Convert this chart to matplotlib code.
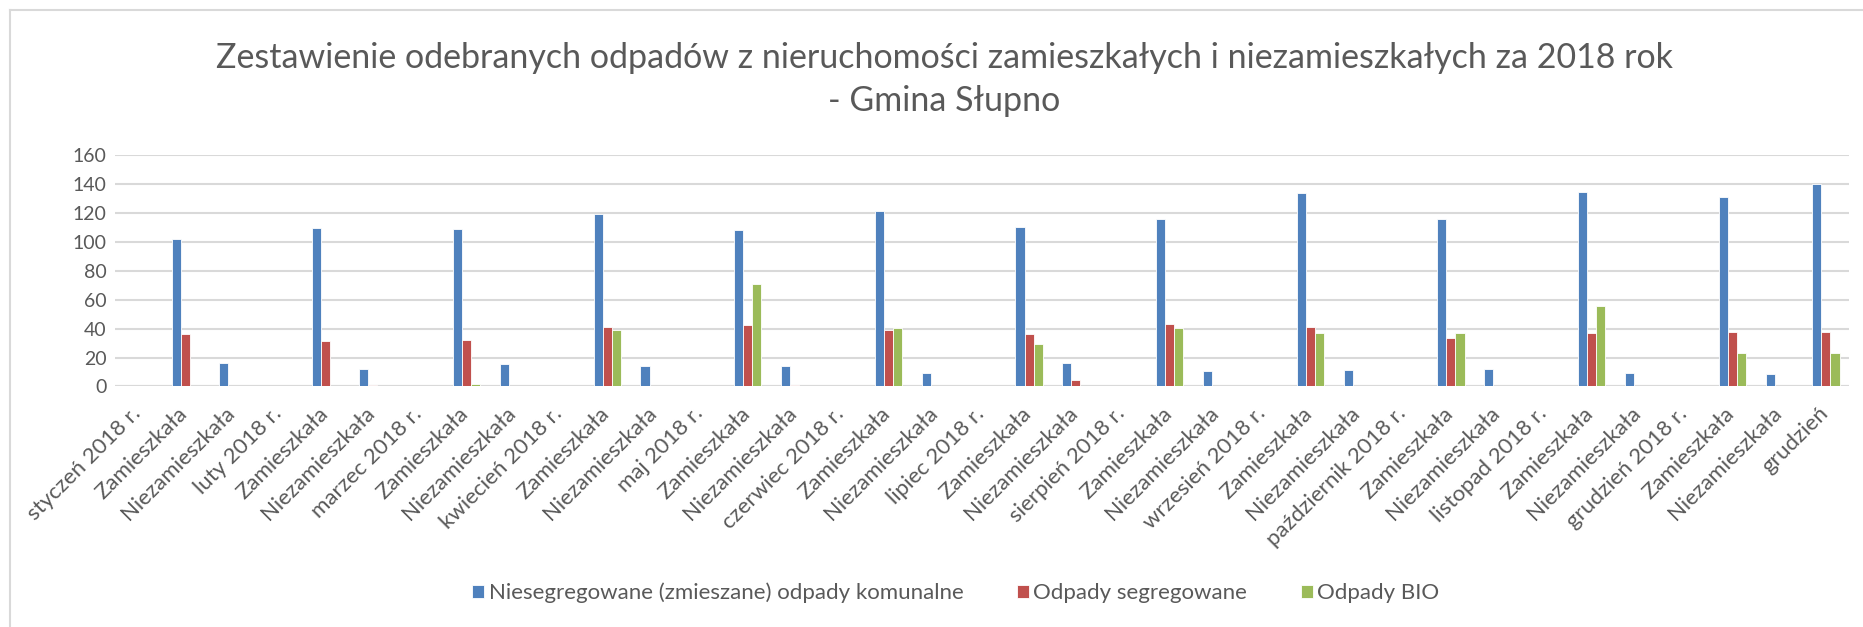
import matplotlib
matplotlib.use("Agg")
import matplotlib.pyplot as plt
import matplotlib.transforms as mtransforms
import numpy as np
from matplotlib.lines import Line2D

plt.rcParams['font.family'] = ['Lato', 'DejaVu Sans']

months = ["styczeń", "luty", "marzec", "kwiecień", "maj", "czerwiec",
          "lipiec", "sierpień", "wrzesień", "październik", "listopad", "grudzień"]

categories = []
for m in months:
    categories += [m + " 2018 r.", "Zamieszkała", "Niezamieszkała"]
categories.append("grudzień")

# values per month: (Zamieszkała, Niezamieszkała); month header rows are empty
mixed_zam = [102, 109.2, 108.8, 118.9, 107.9, 121.6, 110.4, 116.1, 133.6, 115.7, 134.5, 130.8]
mixed_nzam = [16.1, 12.2, 15.6, 14.2, 14.2, 9.6, 16.1, 10.8, 11.5, 11.9, 9.4, 8.7]
segr_zam = [36.0, 31.2, 32.1, 40.8, 42.5, 39.0, 36.0, 43.4, 41.1, 33.7, 37.2, 37.4]
segr_nzam = [0.4, 0.9, 0.4, 0.3, 0.9, 0.3, 4.4, 0.3, 0.3, 0.3, 0.3, 0.3]
bio_zam = [0, 0, 1.8, 39.2, 70.9, 40.2, 29.6, 40.4, 36.7, 36.9, 55.5, 23.2]
bio_nzam = [0] * 12
total_mixed, total_segr, total_bio = 139.8, 37.6, 23.2

def build(zam, nzam, total):
    out = []
    for z, n in zip(zam, nzam):
        out += [np.nan, z, n]
    out.append(total)
    return out

mixed = build(mixed_zam, mixed_nzam, total_mixed)
segr = build(segr_zam, segr_nzam, total_segr)
bio = build(bio_zam, bio_nzam, total_bio)

series = [
    ("Niesegregowane (zmieszane) odpady komunalne", mixed, "#4F81BD"),
    ("Odpady segregowane", segr, "#C0504D"),
    ("Odpady BIO", bio, "#9BBB59"),
]

txt = "#595959"
fig = plt.figure(figsize=(18.63, 6.27), dpi=100)
ax = fig.add_axes([0.0617, 0.3836, 0.931, 0.3692])

x = np.arange(len(categories))
w = 0.193
for i, (name, vals, col) in enumerate(series):
    ax.bar(x + (i - 1) * w, vals, w, color=col, edgecolor="white",
           linewidth=0.6, label=name, zorder=3)

ax.set_xlim(-0.5, len(categories) - 0.5)
ax.set_ylim(0, 160)
ax.set_yticks(range(0, 161, 20))
ax.grid(axis="y", color="#D9D9D9", linewidth=1.5, zorder=0)
for s in ax.spines.values():
    s.set_visible(False)
ax.axhline(0, color="#D9D9D9", linewidth=1.5, zorder=1)
ax.tick_params(length=0, colors=txt, labelsize=14)
ax.tick_params(axis="y", pad=6)
ax.set_xticks(x)
ax.set_xticklabels(categories, rotation=45, ha="right", rotation_mode="anchor",
                   fontsize=16, color=txt)
shift = mtransforms.ScaledTranslation(-8 / 100, -12 / 100, fig.dpi_scale_trans)
for lab in ax.get_xticklabels():
    lab.set_transform(lab.get_transform() + shift)

fig.text(0.507, 0.873, "Zestawienie odebranych odpadów z nieruchomości zamieszkałych i niezamieszkałych za 2018 rok\n- Gmina Słupno",
         ha="center", va="center", fontsize=24.5, color=txt, linespacing=1.42)

fig.legend(loc="center", bbox_to_anchor=(0.513, 0.054), ncol=3, frameon=False,
           fontsize=16, labelcolor=txt, handlelength=0.55, handleheight=0.55,
           columnspacing=2.4, handletextpad=0.2)

fig.add_artist(Line2D([10 / 1863, 10 / 1863], [0, 1 - 10 / 627], color="#D9D9D9", lw=1.5))
fig.add_artist(Line2D([10 / 1863, 1], [1 - 10 / 627, 1 - 10 / 627], color="#D9D9D9", lw=1.5))

fig.savefig("out.png", dpi=100)
